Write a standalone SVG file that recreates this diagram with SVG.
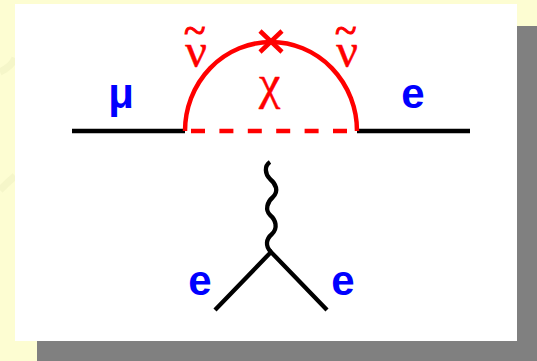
<svg xmlns="http://www.w3.org/2000/svg" width="537" height="361" viewBox="0 0 537 361">
<style>
.k{fill:none;stroke:#000;stroke-width:4.3}
.r{fill:none;stroke:#f00;stroke-width:4.5}
.b{font:bold 42px "Liberation Sans",Arial,sans-serif;fill:#00f;text-anchor:middle}
.g{font:48px "Liberation Serif","DejaVu Serif",serif;fill:#f00;stroke:#f00;stroke-width:.5}
.t{font-size:40px;stroke-width:1}
</style>
<rect width="537" height="361" fill="#fdfdd2"/>
<path d="M0 72Q12 66 15 58M0 190Q8 182 15 176" fill="none" stroke="#eef0c0" stroke-width="7" opacity=".5"/>
<rect x="37" y="26" width="500" height="335" fill="#808080"/>
<rect x="15" y="4" width="502" height="337" fill="#fff"/>
<g id="connectors">
<path class="k" d="M270 162C264 166 265 174 270 179C276 184 279 191 273 197C267 202 265 210 270 215C276 220 278 228 272 234C266 239 265 246 271 252"/>
<path class="k" d="M72 131H185M357 131H470"/>
<path class="k" d="M215 310L271 252L327 310"/>
<path class="r" d="M185 131A86 89 0 0 1 357 131"/>
<path class="r" d="M191 131H355" stroke-dasharray="14 14.4"/>
<path class="r" stroke-width="5" d="M260 31L282 52M282 31L260 52"/>
</g>
<g id="mu"><text class="b" x="121" y="108">μ</text></g>
<g id="e-right"><text class="b" x="413" y="108">e</text></g>
<g id="e-left-bottom"><text class="b" x="200" y="295">e</text></g>
<g id="e-right-bottom"><text class="b" x="343" y="295">e</text></g>
<g id="nu-left"><text class="g" x="184" y="67">ν<tspan class="t" dx="-23" dy="-23">~</tspan></text></g>
<g id="nu-right"><text class="g" x="335" y="67">ν<tspan class="t" dx="-23" dy="-23">~</tspan></text></g>
<g id="chi"><text class="g" x="259" y="99">χ</text></g>
</svg>
